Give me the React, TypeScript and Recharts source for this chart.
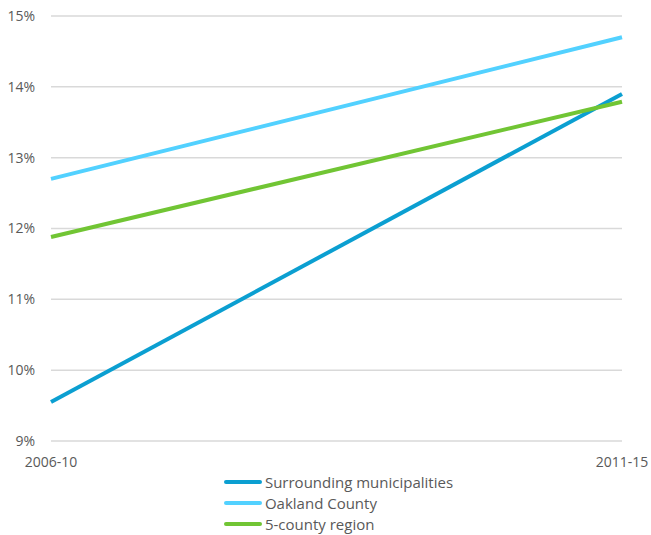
import { LineChart, Line, XAxis, YAxis, CartesianGrid, Legend } from "recharts";

const periods = ["2006-10", "2011-15"];
const surrounding = [9.55, 13.9];
const oakland = [12.7, 14.7];
const fiveCounty = [11.88, 13.79];
const yTicks = [9, 10, 11, 12, 13, 14, 15];

const seriesInfo = [
  { key: "surrounding", name: "Surrounding municipalities", color: "#0B9FD1" },
  { key: "oakland", name: "Oakland County", color: "#52D1FF" },
  { key: "fiveCounty", name: "5-county region", color: "#71C534" },
];

const data = periods.map((p, i) => ({
  period: p,
  surrounding: surrounding[i],
  oakland: oakland[i],
  fiveCounty: fiveCounty[i],
}));

const font = "'Open Sans', 'Liberation Sans', Arial, sans-serif";
const textColor = "#595959";

function LegendBox() {
  return (
    <div style={{ textAlign: "center", height: 64 }}>
      <div style={{ display: "inline-block", textAlign: "left", paddingLeft: 26 }}>
        {seriesInfo.map((s) => (
          <div
            key={s.key}
            style={{
              display: "flex",
              alignItems: "center",
              height: 21,
              fontFamily: font,
              fontSize: 15,
              color: textColor,
            }}
          >
            <span
              style={{
                display: "inline-block",
                width: 38,
                height: 4,
                borderRadius: 2,
                background: s.color,
                marginRight: 3,
              }}
            />
            {s.name}
          </div>
        ))}
      </div>
    </div>
  );
}

export default function App() {
  return (
    <div style={{ position: "absolute", left: 0, top: 0, background: "#fff" }}>
      <LineChart
        width={651}
        height={535}
        data={data}
        margin={{ top: 16, right: 29, left: 0, bottom: 0 }}
      >
        <CartesianGrid vertical={false} stroke="#D9D9D9" strokeWidth={1.5} />
        <XAxis
          dataKey="period"
          axisLine={false}
          tickLine={false}
          tickSize={0}
          tickMargin={16}
          height={30}
          padding={{ left: 0, right: 0 }}
          tick={{ fill: textColor, fontSize: 14, fontFamily: font }}
        />
        <YAxis
          domain={[9, 15]}
          ticks={yTicks}
          width={51}
          axisLine={false}
          tickLine={false}
          tickSize={0}
          tickMargin={16}
          tickFormatter={(v) => `${v}%`}
          tick={{ fill: textColor, fontSize: 14, fontFamily: font }}
        />
        <Legend
          verticalAlign="bottom"
          align="center"
          wrapperStyle={{ left: 0, width: 651 }}
          content={() => <LegendBox />}
        />
        {seriesInfo.map((s) => (
          <Line
            key={s.key}
            type="linear"
            dataKey={s.key}
            name={s.name}
            stroke={s.color}
            strokeWidth={4}
            dot={false}
            isAnimationActive={false}
          />
        ))}
      </LineChart>
    </div>
  );
}
